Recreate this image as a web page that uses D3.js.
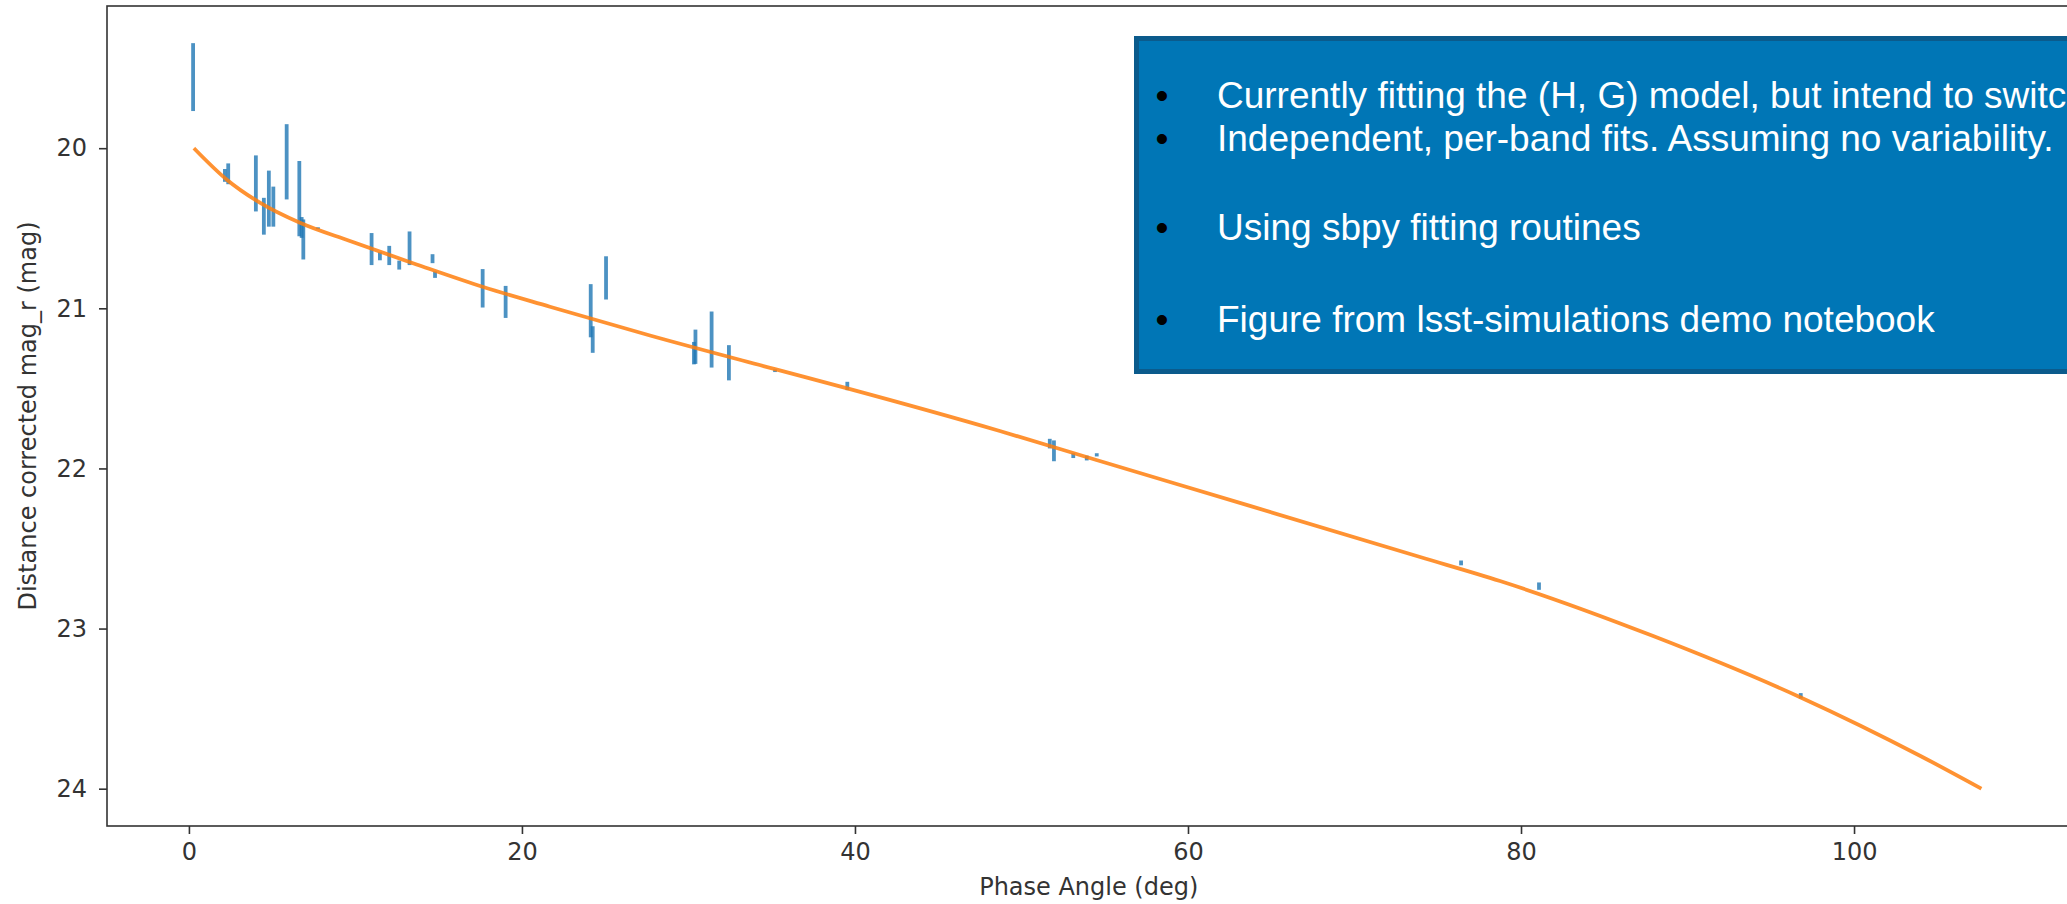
<!DOCTYPE html>
<html>
<head>
<meta charset="utf-8">
<script src="https://cdn.jsdelivr.net/npm/d3@7"></script>
<style>
  body { margin: 0; background: #fff; overflow: hidden; }
  svg { display: block; }
  .axis text { font-family: "DejaVu Sans", sans-serif; font-size: 24px; fill: #333; }
  .axis line { stroke: #333; stroke-width: 1.6; }
  .axis .domain { display: none; }
  .label { font-family: "DejaVu Sans", sans-serif; font-size: 24px; fill: #333; }
  .note { font-family: "Liberation Sans", Arial, sans-serif; font-size: 37px; }
</style>
</head>
<body>
<div id="chart"></div>
<script>
  // observations (phase angle in deg, corrected mag, 1-sigma error)
  const phaseAngle = [0.25, 2.16, 2.36, 4.02, 4.5, 4.8, 5.07, 5.87, 6.63, 6.77, 6.87, 7.75,
    10.97, 11.47, 12.03, 12.63, 13.25, 14.63, 14.78, 17.64, 19.02, 24.13, 24.25, 25.05,
    30.33, 30.42, 31.39, 32.43, 35.2, 39.54, 51.7, 51.95, 53.11, 53.92, 54.52, 76.4, 81.08, 96.8];
  const magR = [19.556, 20.17, 20.16, 20.22, 20.425, 20.315, 20.365, 20.085, 20.315, 20.495, 20.57, 20.5,
    20.63, 20.675, 20.67, 20.73, 20.625, 20.69, 20.79, 20.875, 20.96, 21.015, 21.195, 20.81,
    21.28, 21.24, 21.195, 21.34, 21.39, 21.485, 21.845, 21.89, 21.92, 21.935, 21.915, 22.59, 22.735, 23.42];
  const magErr = [0.212, 0.04, 0.065, 0.175, 0.115, 0.175, 0.125, 0.235, 0.235, 0.065, 0.125, 0.006,
    0.1, 0.025, 0.06, 0.028, 0.105, 0.028, 0.02, 0.12, 0.1, 0.166, 0.083, 0.135,
    0.07, 0.107, 0.175, 0.11, 0.008, 0.026, 0.03, 0.065, 0.015, 0.015, 0.01, 0.015, 0.023, 0.017];

  // (H, G) model fit
  const fitPhase = [0.3, 2.26, 4.26, 6.67, 9.67, 13.67, 17.68, 21.68, 27.69, 35.2, 39.54, 48.7,
    54.5, 63.72, 73.94, 78.74, 87.9, 96.8, 103.96, 107.65];
  const fitMag = [20.0, 20.195, 20.34, 20.466, 20.58, 20.726, 20.867, 20.99, 21.17, 21.38, 21.5, 21.766,
    21.947, 22.234, 22.553, 22.703, 23.045, 23.43, 23.794, 24.0];

  const xTicks = [0, 20, 40, 60, 80, 100];
  const yTicks = [20, 21, 22, 23, 24];

  // the slide box runs off the right edge, as in the original
  const notes = [
    "Currently fitting the (H, G) model, but intend to switch",
    "Independent, per-band fits. Assuming no variability.",
    "Using sbpy fitting routines",
    "Figure from lsst-simulations demo notebook"
  ];
  const noteBaselines = [108, 151, 240, 332];

  const width = 2067;
  const height = 904;
  const plot = { left: 107, top: 6, right: 2070.5, bottom: 826 };

  const svg = d3.select("#chart").append("svg")
    .attr("width", width)
    .attr("height", height);

  const x = d3.scaleLinear().domain([-4.92, 113.0]).range([plot.left, plot.right]);
  const y = d3.scaleLinear().domain([19.112, 24.233]).range([plot.top, plot.bottom]);

  // error bars
  svg.append("g")
    .selectAll("line")
    .data(phaseAngle)
    .enter().append("line")
    .attr("x1", d => x(d))
    .attr("x2", d => x(d))
    .attr("y1", (d, i) => y(magR[i] - magErr[i]))
    .attr("y2", (d, i) => y(magR[i] + magErr[i]))
    .attr("stroke", "#1f77b4")
    .attr("stroke-opacity", 0.8)
    .attr("stroke-width", 3.8);

  // fitted curve
  const line = d3.line()
    .x(d => x(d[0]))
    .y(d => y(d[1]))
    .curve(d3.curveMonotoneX);

  svg.append("path")
    .datum(fitPhase.map((p, i) => [p, fitMag[i]]))
    .attr("d", line)
    .attr("fill", "none")
    .attr("stroke", "#ff7f0e")
    .attr("stroke-opacity", 0.85)
    .attr("stroke-width", 3.8)
    .attr("stroke-linejoin", "round");

  // axes
  svg.append("g")
    .attr("class", "axis")
    .attr("transform", `translate(0,${plot.bottom})`)
    .call(d3.axisBottom(x).tickValues(xTicks).tickFormat(d3.format("d"))
      .tickSize(8).tickSizeOuter(0).tickPadding(9));

  svg.append("g")
    .attr("class", "axis")
    .attr("transform", `translate(${plot.left},0)`)
    .call(d3.axisLeft(y).tickValues(yTicks).tickFormat(d3.format("d"))
      .tickSize(8).tickSizeOuter(0).tickPadding(12));

  // frame
  svg.append("rect")
    .attr("x", plot.left)
    .attr("y", plot.top)
    .attr("width", plot.right - plot.left)
    .attr("height", plot.bottom - plot.top)
    .attr("fill", "none")
    .attr("stroke", "#333")
    .attr("stroke-width", 1.6);

  svg.append("text")
    .attr("class", "label")
    .attr("x", (plot.left + plot.right) / 2)
    .attr("y", 895)
    .attr("text-anchor", "middle")
    .text("Phase Angle (deg)");

  svg.append("text")
    .attr("class", "label")
    .attr("transform", `translate(36,${(plot.top + plot.bottom) / 2}) rotate(-90)`)
    .attr("text-anchor", "middle")
    .text("Distance corrected mag_r (mag)");

  // notes box
  const box = svg.append("g");
  box.append("rect")
    .attr("x", 1136.5)
    .attr("y", 38.5)
    .attr("width", 1000)
    .attr("height", 333)
    .attr("fill", "#0076b6")
    .attr("stroke", "#0b5b8c")
    .attr("stroke-width", 5);

  notes.forEach((t, i) => {
    box.append("text")
      .attr("class", "note")
      .attr("x", 1162)
      .attr("y", noteBaselines[i])
      .attr("text-anchor", "middle")
      .attr("fill", "#000")
      .text("\u2022");
    box.append("text")
      .attr("class", "note")
      .attr("x", 1217)
      .attr("y", noteBaselines[i])
      .attr("fill", "#fff")
      .text(t);
  });
</script>
</body>
</html>
